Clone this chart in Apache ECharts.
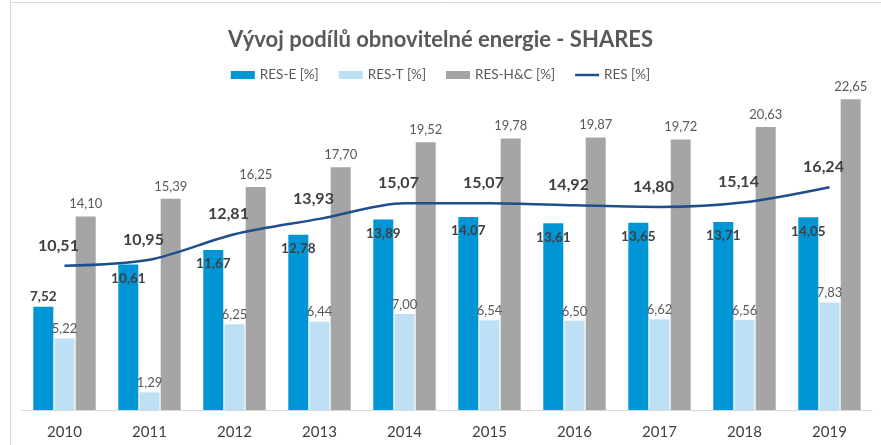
<!DOCTYPE html>
<html>
<head>
<meta charset="utf-8">
<script src="https://cdn.jsdelivr.net/npm/echarts@6/dist/echarts.min.js"></script>
<style>html,body{margin:0;padding:0;background:#fff}#c{width:881px;height:445px}</style>
</head>
<body>
<div id="c"></div>
<script>
const years = ['2010','2011','2012','2013','2014','2015','2016','2017','2018','2019'];
const resE = [7.52,10.61,11.67,12.78,13.89,14.07,13.61,13.65,13.71,14.05];
const resT = [5.22,1.29,6.25,6.44,7.00,6.54,6.50,6.62,6.56,7.83];
const resHC = [14.10,15.39,16.25,17.70,19.52,19.78,19.87,19.72,20.63,22.65];
const res = [10.51,10.95,12.81,13.93,15.07,15.07,14.92,14.80,15.14,16.24];

const font = 'Lato, "Open Sans", sans-serif';
const fmt = p => p.value.toFixed(2).replace('.', ',');
const chart = echarts.init(document.getElementById('c'));
chart.setOption({
  animation: false,
  textStyle: {fontFamily: font},
  title: {
    text: 'Vývoj podílů obnovitelné energie - SHARES',
    left: 'center', top: 24,
    textStyle: {fontFamily: font, fontSize: 22, fontWeight: 'bold', color: '#595959'}
  },
  legend: {
    top: 63, left: 'center', itemGap: 20, itemWidth: 24, itemHeight: 8,
    textStyle: {fontFamily: font, fontSize: 13.5, color: '#595959'},
    data: [
      {name: 'RES-E [%]', icon: 'rect'},
      {name: 'RES-T [%]', icon: 'rect'},
      {name: 'RES-H&C [%]', icon: 'rect'},
      {name: 'RES [%]', icon: 'path://M0,0 L24,0 L24,2.5 L0,2.5 Z', itemStyle: {color: '#1f4e8c'}}
    ]
  },
  graphic: [
    {type: 'line', shape: {x1: 10.5, y1: 0, x2: 10.5, y2: 445}, style: {stroke: '#d9d9d9', lineWidth: 1}},
    {type: 'line', shape: {x1: 10, y1: 2.5, x2: 881, y2: 2.5}, style: {stroke: '#d9d9d9', lineWidth: 1}}
  ],
  grid: {left: 22, right: 9, top: 67, bottom: 35, containLabel: false},
  xAxis: {
    type: 'category', data: years,
    axisLine: {lineStyle: {color: '#d9d9d9'}},
    axisTick: {show: false},
    axisLabel: {fontFamily: font, fontSize: 15, color: '#404040', margin: 15}
  },
  yAxis: {type: 'value', min: 0, max: 25, show: false, splitLine: {show: false}},
  series: [
    {
      name: 'RES-E [%]', type: 'bar', barWidth: 20, barGap: '6%',
      itemStyle: {color: '#0096d6'},
      data: resE.map((v, i) => ({value: v, label: i === 0 ? {position: 'top', distance: 3} : {position: 'insideTop', distance: 7}})),
      label: {show: true, formatter: fmt, fontFamily: font, fontSize: 13.5, fontWeight: 'bold', color: '#404040'}
    },
    {
      name: 'RES-T [%]', type: 'bar', barWidth: 20,
      itemStyle: {color: '#bde0f5'},
      data: resT,
      label: {show: true, position: 'top', distance: 3, formatter: fmt, fontFamily: font, fontSize: 13, color: '#595959'}
    },
    {
      name: 'RES-H&C [%]', type: 'bar', barWidth: 20,
      itemStyle: {color: '#a5a5a5'},
      data: resHC,
      label: {show: true, position: 'top', distance: 6, formatter: fmt, fontFamily: font, fontSize: 13, color: '#595959'}
    },
    {
      name: 'RES [%]', type: 'line', smooth: 0.3, symbol: 'circle', symbolSize: 0.01, showSymbol: true,
      lineStyle: {color: '#1f4e8c', width: 2.5},
      itemStyle: {color: '#1f4e8c'},
      data: res,
      label: {show: true, position: 'top', distance: 8, offset: [-6, -4], formatter: fmt, fontFamily: font, fontSize: 16, fontWeight: 'bold', color: '#404040'}
    }
  ]
});
</script>
</body>
</html>
